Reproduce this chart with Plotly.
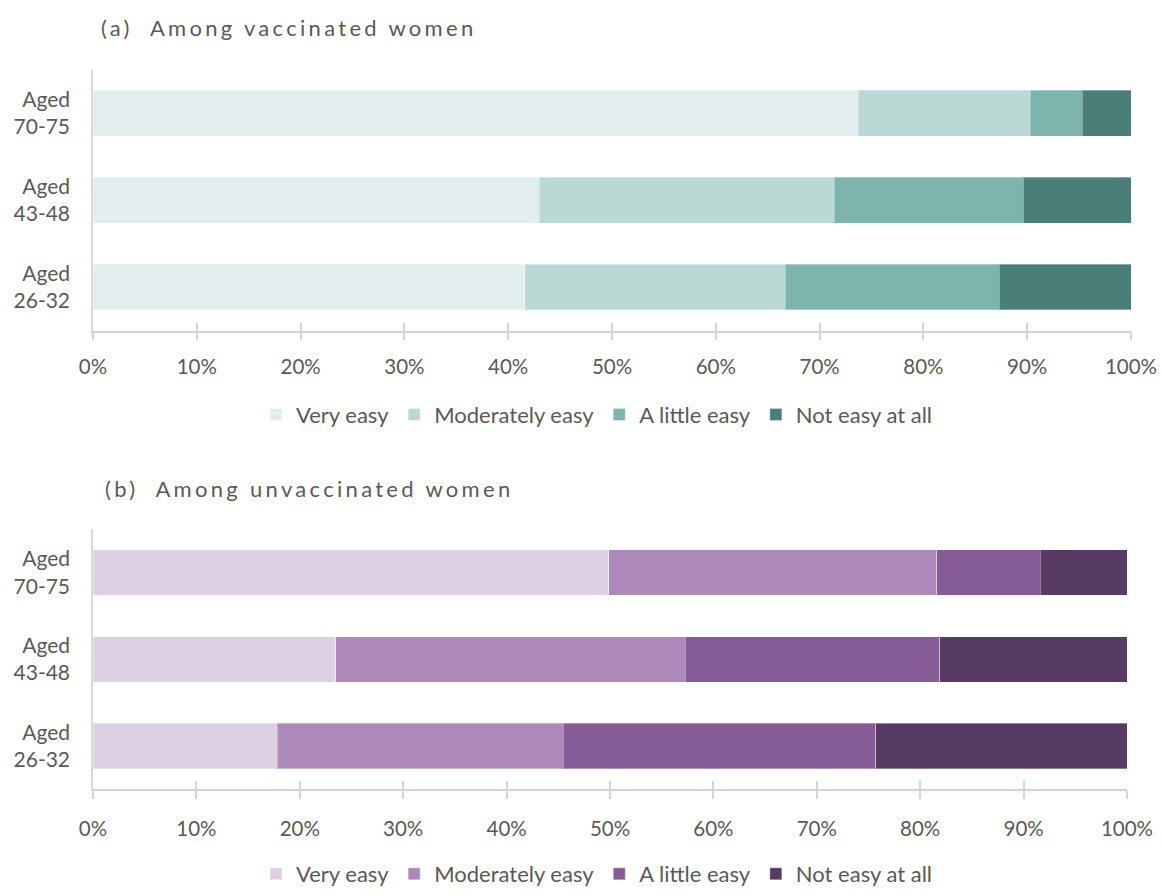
import plotly.graph_objects as go

ages = ["Aged<br>26-32", "Aged<br>43-48", "Aged<br>70-75"]
levels = ["Very easy", "Moderately easy", "A little easy", "Not easy at all"]

# values per level, in order of ages (26-32, 43-48, 70-75), in %
vacc = {
    "Very easy":       [41.6, 43.0, 73.7],
    "Moderately easy": [25.1, 28.4, 16.6],
    "A little easy":   [20.6, 18.2, 5.0],
    "Not easy at all": [12.7, 10.4, 4.7],
}
unvacc = {
    "Very easy":       [17.8, 23.5, 49.9],
    "Moderately easy": [27.7, 33.8, 31.7],
    "A little easy":   [30.2, 24.6, 10.0],
    "Not easy at all": [24.3, 18.1, 8.4],
}
teal = ["#E1EEED", "#BBD9D4", "#7DB4AD", "#497F78"]
purple = ["#DDD0E3", "#AC89B8", "#855C96", "#573B63"]

x_ticks = list(range(0, 101, 10))

FONT = "Lato, 'Open Sans', sans-serif"
GREY = "#595959"
AX_PURPLE = "#DCCDE3"

fig = go.Figure()

for i, lv in enumerate(levels):
    fig.add_trace(go.Bar(
        y=ages, x=vacc[lv], name=lv, orientation="h",
        marker=dict(color=teal[i], line=dict(color="rgba(255,255,255,0.35)", width=1)),
        xaxis="x", yaxis="y", legend="legend", hoverinfo="x+name",
    ))
for i, lv in enumerate(levels):
    fig.add_trace(go.Bar(
        y=ages, x=unvacc[lv], name=lv, orientation="h",
        marker=dict(color=purple[i], line=dict(color="rgba(255,255,255,0.35)", width=1)),
        xaxis="x2", yaxis="y2", legend="legend2", hoverinfo="x+name",
    ))

H = 895.0
W = 1164.0
top_dom = [1 - 334 / H, 1 - 70.5 / H]
bot_dom = [1 - 797.5 / H, 1 - 534.5 / H]
xdom_top = [93 / W, 1131 / W]
xdom_bot = [93 / W, 1127 / W]

def xax(domain, anchor, standoff=9):
    return dict(domain=domain, anchor=anchor, range=[0, 100], tickvals=x_ticks,
                ticktext=[f"{v}%" for v in x_ticks], showgrid=False, zeroline=False,
                showline=True, linecolor=AX_PURPLE, linewidth=1.5,
                ticks="outside", ticklen=8, tickwidth=1.5, tickcolor=AX_PURPLE,
                ticklabelstandoff=standoff,
                tickfont=dict(family=FONT, size=20.5, color=GREY), automargin=False,
                fixedrange=True)

def xov(overlay, domain, anchor):
    return dict(overlaying=overlay, domain=domain, anchor=anchor, range=[0, 100],
                tickvals=x_ticks, showticklabels=False, showgrid=False, zeroline=False,
                showline=False, ticks="inside", ticklen=8, tickwidth=1.5,
                tickcolor=AX_PURPLE, automargin=False, fixedrange=True)

def yax(domain, anchor):
    return dict(domain=domain, anchor=anchor, type="category", categoryorder="array",
                categoryarray=ages, range=[-0.5, 2.5], showgrid=False, zeroline=False,
                showline=True, linecolor="#D9D9D9", linewidth=1.5, ticks="",
                ticklabelstandoff=17,
                tickfont=dict(family=FONT, size=21, color=GREY), automargin=False,
                fixedrange=True)

fig.update_layout(
    width=1164, height=895,
    margin=dict(l=0, r=0, t=0, b=0),
    paper_bgcolor="white", plot_bgcolor="white",
    barmode="stack", bargap=0.475,
    font=dict(family=FONT, color=GREY),
    xaxis=xax(xdom_top, "y"),
    yaxis=yax(top_dom, "x"),
    xaxis2=xax(xdom_bot, "y2", standoff=12),
    yaxis2=yax(bot_dom, "x2"),
    xaxis3=xov("x", xdom_top, "y"),
    xaxis4=xov("x2", xdom_bot, "y2"),
    legend=dict(orientation="h", x=597 / W, xanchor="center", y=1 - 419 / H, yanchor="middle",
                font=dict(family=FONT, size=22, color=GREY), traceorder="normal",
                itemclick=False, itemdoubleclick=False),
    legend2=dict(orientation="h", x=597 / W, xanchor="center", y=1 - 883 / H, yanchor="middle",
                 font=dict(family=FONT, size=22, color=GREY), traceorder="normal",
                 itemclick=False, itemdoubleclick=False),
    showlegend=True,
    annotations=[
        dict(text='<span style="letter-spacing:3.3px">(a)  Among vaccinated women</span>',
             x=99 / W, y=1 - 28 / H, xref="paper", yref="paper", xanchor="left", yanchor="middle",
             showarrow=False, font=dict(family=FONT, size=22, color=GREY)),
        dict(text='<span style="letter-spacing:3.3px">(b)  Among unvaccinated women</span>',
             x=103 / W, y=1 - 493 / H, xref="paper", yref="paper", xanchor="left", yanchor="middle",
             showarrow=False, font=dict(family=FONT, size=22, color=GREY)),
    ],
)

# dummy traces to activate overlay axes
fig.add_trace(go.Scatter(x=[None], y=[None], xaxis="x3", yaxis="y", showlegend=False, hoverinfo="skip"))
fig.add_trace(go.Scatter(x=[None], y=[None], xaxis="x4", yaxis="y2", showlegend=False, hoverinfo="skip"))

fig.write_html("out.html", config={"displayModeBar": False})
